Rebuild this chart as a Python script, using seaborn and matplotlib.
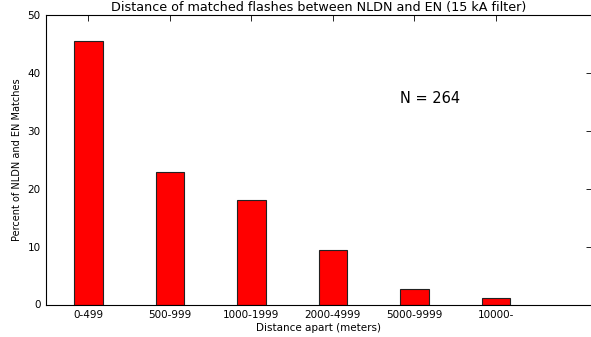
import matplotlib
matplotlib.use("Agg")
import matplotlib.pyplot as plt
import seaborn as sns
import pandas as pd

categories = ["0-499", "500-999", "1000-1999", "2000-4999", "5000-9999", "10000-"]
percents = [45.5, 22.9, 18.1, 9.4, 2.6, 1.1]
yticks = [0, 10, 20, 30, 40, 50]

sns.set_style("white")
plt.rcParams['font.family'] = ['DejaVu Sans']
plt.rcParams['text.color'] = 'black'
plt.rcParams['axes.labelcolor'] = 'black'

df = pd.DataFrame({"cat": categories, "pct": percents})

fig = plt.figure(figsize=(5.91, 3.37), dpi=100)
ax = fig.add_axes([46/591, (337-304.5)/337, (592-46)/591, (304.5-15)/337])
sns.barplot(data=df, x="cat", y="pct", ax=ax, width=0.35, color="red",
            saturation=1, edgecolor="#222222", linewidth=0.8)

ax.set_xlim(-0.52, 6.18)
ax.set_ylim(0, 50)
ax.set_yticks(yticks)
ax.set_title("Distance of matched flashes between NLDN and EN (15 kA filter)",
             fontsize=9.2, pad=3, color="black")
ax.set_xlabel("Distance apart (meters)", fontsize=7.5, labelpad=2)
ax.set_ylabel("Percent of NLDN and EN Matches", fontsize=7, labelpad=4)
ax.tick_params(axis="both", which="both", direction="in", length=4, width=0.6,
               top=True, right=True, labelsize=7.5, pad=4, color="black", labelcolor="black")
for s in ax.spines.values():
    s.set_color("black")
    s.set_linewidth(0.8)
ax.text(3.83, 35.6, "N = 264", fontsize=10.5, va="center", ha="left", color="black")

fig.savefig("out.png", dpi=100)
